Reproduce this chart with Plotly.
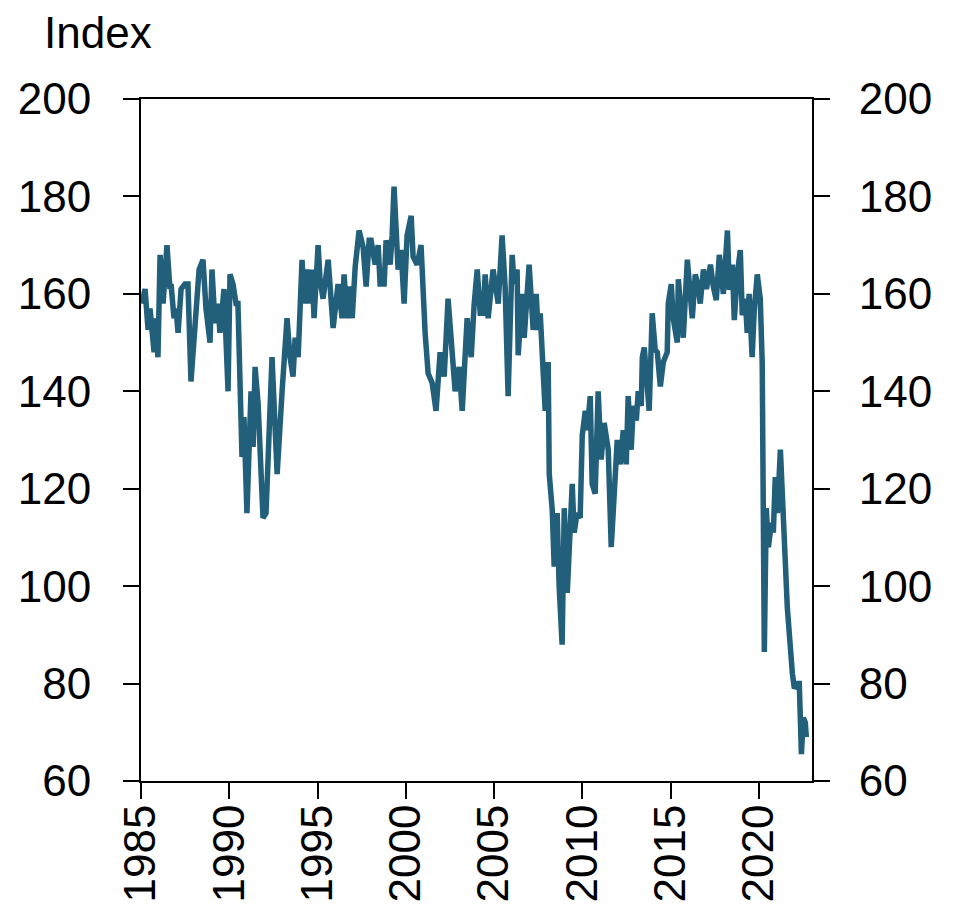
import plotly.graph_objects as go

years = [
    1985.06, 1985.23, 1985.40, 1985.51, 1985.74, 1985.79, 1985.96, 1986.08, 1986.25, 1986.47,
    1986.64, 1986.70, 1986.87, 1986.98, 1987.10, 1987.27, 1987.49, 1987.66, 1987.83, 1988.12,
    1988.29, 1988.51, 1988.68, 1988.91, 1989.02, 1989.19, 1989.36, 1989.47, 1989.70, 1989.93,
    1990.04, 1990.21, 1990.38, 1990.49, 1990.72, 1990.83, 1991.00, 1991.23, 1991.35, 1991.46,
    1991.63, 1991.91, 1992.08, 1992.42, 1992.71, 1992.99, 1993.27, 1993.44, 1993.61, 1993.73,
    1993.90, 1994.12, 1994.24, 1994.41, 1994.52, 1994.69, 1994.80, 1995.03, 1995.14, 1995.31,
    1995.60, 1995.71, 1995.88, 1996.16, 1996.39, 1996.50, 1996.67, 1996.84, 1996.96, 1997.13,
    1997.35, 1997.58, 1997.75, 1997.92, 1998.03, 1998.26, 1998.43, 1998.54, 1998.77, 1998.88,
    1999.11, 1999.22, 1999.33, 1999.56, 1999.73, 1999.90, 2000.07, 2000.30, 2000.41, 2000.64,
    2000.86, 2001.09, 2001.26, 2001.49, 2001.71, 2001.94, 2002.17, 2002.39, 2002.62, 2002.79,
    2003.02, 2003.19, 2003.47, 2003.70, 2003.87, 2004.04, 2004.21, 2004.38, 2004.49, 2004.66,
    2004.94, 2005.23, 2005.45, 2005.62, 2005.79, 2006.02, 2006.13, 2006.30, 2006.36, 2006.59,
    2006.70, 2006.98, 2007.21, 2007.38, 2007.49, 2007.61, 2007.78, 2007.89, 2008.06, 2008.12,
    2008.29, 2008.40, 2008.57, 2008.68, 2008.85, 2008.97, 2009.14, 2009.31, 2009.42, 2009.53,
    2009.70, 2009.87, 2009.99, 2010.16, 2010.27, 2010.44, 2010.55, 2010.72, 2010.89, 2011.06,
    2011.23, 2011.46, 2011.63, 2011.74, 2011.97, 2012.14, 2012.31, 2012.48, 2012.59, 2012.76,
    2012.88, 2013.05, 2013.16, 2013.33, 2013.39, 2013.50, 2013.67, 2013.78, 2013.95, 2014.12,
    2014.24, 2014.41, 2014.58, 2014.80, 2014.86, 2015.03, 2015.14, 2015.37, 2015.43, 2015.60,
    2015.71, 2015.94, 2016.05, 2016.22, 2016.39, 2016.56, 2016.67, 2016.85, 2017.02, 2017.25,
    2017.41, 2017.58, 2017.75, 2017.98, 2018.21, 2018.32, 2018.49, 2018.60, 2018.77, 2018.94,
    2019.05, 2019.22, 2019.33, 2019.44, 2019.61, 2019.73, 2019.90, 2020.07, 2020.18, 2020.30,
    2020.41, 2020.53, 2020.70, 2020.81, 2020.92, 2021.04, 2021.21, 2021.38, 2021.60, 2021.89,
    2022.00, 2022.17, 2022.28, 2022.40, 2022.51, 2022.62, 2022.68,
]

index_values = [
    158, 161, 152.6, 157, 148, 155, 147, 168, 158, 170,
    161, 162, 155, 157, 152, 161, 162, 162, 142, 155,
    165, 167, 157, 150, 165, 154, 158, 152, 161, 140,
    164, 162, 158, 158, 126.5, 134.7, 115, 140, 128.6, 145,
    137.6, 114, 115, 147, 123, 140, 155, 147, 143, 151,
    147, 167, 158, 165, 158, 165, 155, 170, 163, 159,
    167, 161.5, 153, 162, 155, 164, 155, 161.5, 155, 165.5,
    173, 169.6, 161.5, 171, 171, 166, 170, 162, 162, 171,
    166, 172, 182, 165, 169, 158, 172, 176, 167.6, 166,
    170, 152, 143.7, 141.7, 136, 148, 143, 159, 146, 140,
    145, 136, 155, 147, 158, 165, 156, 156, 164, 155,
    165, 158, 172, 161.5, 139, 168, 162, 165, 147.4, 160,
    151, 166, 152.6, 160, 152.6, 156, 143.7, 136, 146, 123,
    115.6, 104, 115, 100, 88, 116, 98.6, 113.5, 121, 111,
    115, 114, 131, 136, 132, 139, 121, 119, 140, 126,
    133.5, 128, 108, 115, 130, 125, 132, 125, 139, 128,
    137, 134, 140, 137, 147, 149, 142, 136, 156, 148.5,
    148, 141, 146, 148, 158, 162, 155, 150, 163, 154.6,
    151, 167, 161.5, 155, 164, 161.5, 158, 165, 161, 166,
    161.5, 158.7, 168, 160, 173, 160.8, 166, 154.6, 164, 169,
    155.6, 159, 152, 160, 147, 156.7, 164, 159, 146, 86.5,
    116, 108, 113, 111, 122.4, 115, 128, 113.5, 95.7, 82,
    79, 80, 80, 65.5, 73, 72, 69,
]

x_tick_vals = [1985, 1990, 1995, 2000, 2005, 2010, 2015, 2020]
x_tick_text = ["1985", "1990", "1995", "2000", "2005", "2010", "2015", "2020"]
y_tick_vals = [60, 80, 100, 120, 140, 160, 180, 200]
y_tick_text = ["60", "80", "100", "120", "140", "160", "180", "200"]
y_title = "Index"

FONT = "Liberation Sans, Arial, sans-serif"
LINE_COLOR = "#215F7A"

fig = go.Figure()
fig.add_trace(go.Scatter(
    x=years, y=index_values, mode="lines",
    line=dict(color=LINE_COLOR, width=5.5),
    showlegend=False, hoverinfo="x+y",
))
fig.add_trace(go.Scatter(
    x=years, y=index_values, mode="lines", yaxis="y2",
    line=dict(color="rgba(0,0,0,0)", width=0),
    showlegend=False, hoverinfo="skip",
))

axis_common = dict(
    showgrid=False, zeroline=False, showline=True, linecolor="black", linewidth=2,
    ticks="outside", ticklen=16, tickwidth=2, tickcolor="black", automargin=False,
    tickfont=dict(family=FONT, size=44, color="black"),
)

# the page body has an 8px margin, so the figure is sized to fit inside the window
fig.update_layout(
    width=947, height=905,
    margin=dict(l=133, r=143, t=91, b=132),
    paper_bgcolor="white", plot_bgcolor="white",
    xaxis=dict(
        range=[1985, 2023], tickvals=x_tick_vals, ticktext=x_tick_text,
        tickangle=-90, mirror=True, ticklabelstandoff=-12, **axis_common,
    ),
    yaxis=dict(
        range=[60, 200], tickvals=y_tick_vals, ticktext=y_tick_text,
        ticklabelstandoff=23, **axis_common,
    ),
    yaxis2=dict(
        range=[60, 200], tickvals=y_tick_vals, ticktext=y_tick_text,
        overlaying="y", side="right", anchor="x",
        ticklabelstandoff=20, **axis_common,
    ),
    annotations=[dict(
        text=y_title, xref="paper", yref="paper", x=-0.1475, y=1.098,
        xanchor="left", yanchor="middle", showarrow=False,
        font=dict(family=FONT, size=44, color="black"),
    )],
)

fig.write_html("out.html")
